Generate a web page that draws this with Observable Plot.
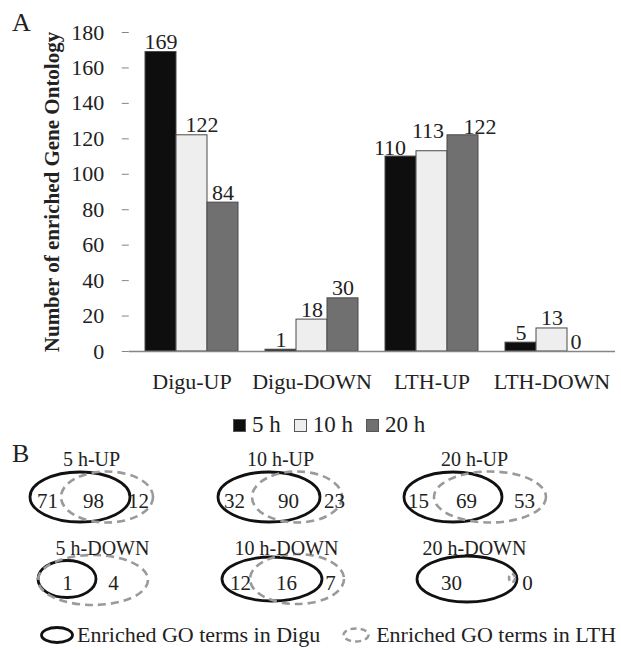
<!DOCTYPE html>
<html><head><meta charset="utf-8">
<script src="https://cdn.jsdelivr.net/npm/d3@7"></script>
<script src="https://cdn.jsdelivr.net/npm/@observablehq/plot@0.6"></script>
<style>
body{margin:0;background:#fff;}
#root{position:relative;width:621px;height:650px;font-family:"Liberation Serif","Times New Roman",Times,serif;color:#222;overflow:hidden;background:#fff}
#root svg{overflow:visible}
</style></head><body><div id="root"></div>
<script>
// ---------- Panel A data ----------
const groups = ["Digu-UP", "Digu-DOWN", "LTH-UP", "LTH-DOWN"];
const series = ["5 h", "10 h", "20 h"];
const values5h = [169, 1, 110, 5];
const values10h = [122, 18, 113, 13];
const values20h = [84, 30, 122, 0];
const yTicks = [0, 20, 40, 60, 80, 100, 120, 140, 160, 180];
const yTitle = "Number of enriched Gene Ontology";

// ---------- Panel B data ----------
const vennTitles = ["5 h-UP", "10 h-UP", "20 h-UP", "5 h-DOWN", "10 h-DOWN", "20 h-DOWN"];
const vennTime = ["5 h", "10 h", "20 h", "5 h", "10 h", "20 h"];
const vennDir = ["UP", "UP", "UP", "DOWN", "DOWN", "DOWN"];
const onlyDigu = ["71", "32", "15", "", "12", "30"];
const shared = ["98", "90", "69", "1", "16", ""];
const onlyLTH = ["12", "23", "53", "4", "7", "0"];
const legendB = ["Enriched GO terms in Digu", "Enriched GO terms in LTH"];

// ---------- styles / layout (px) ----------
const FONT = '"Liberation Serif","Times New Roman",Times,serif';
const INK = "#222";
const AXIS = "#858585";
const barFill = ["#0e0e0e", "#eeeeee", "#707070"];
// per-panel ellipse geometry (offsets from panel centre) and label offsets
const vennShape = [
  {d: [-14, 0, 50, 25], l: [13, 0, 46, 25.5], t: -3, n: [-47, -1, 44]},
  {d: [-13, 0, 51, 25], l: [15, 0, 45, 25.5], t: -2, n: [-48, 6, 52]},
  {d: [-17, 0, 49, 25], l: [20, 0, 56, 25.5], t: 4, n: [-52, -4, 54]},
  {d: [-27, 0, 29, 18.5], l: [-1, 1, 55, 25], t: 8, n: [0, -27, 19]},
  {d: [-10, 0, 50, 22], l: [15, 0, 47, 25], t: 4, n: [-42, 4, 48]},
  {d: [-3, 0, 50, 23], l: [42, -1, 3, 4], t: 4, n: [-19, 0, 57]}
];
const vennTitleDy = {UP: -38, DOWN: -31};
const barNudge = {"Digu-UP|10 h": [10, 0], "LTH-UP|5 h": [-11, 1], "LTH-UP|10 h": [-4, -10], "LTH-UP|20 h": [17, 2], "LTH-DOWN|20 h": [-7, 0]};

const root = document.getElementById("root");
function place(el, left, top) {
  el.style.position = "absolute"; el.style.left = left + "px"; el.style.top = top + "px";
  root.appendChild(el); return el;
}
function label(txt, left, top, size, extra = "") {
  const d = document.createElement("div");
  d.textContent = txt;
  d.style.cssText = `font-size:${size}px;line-height:${size}px;white-space:nowrap;color:${INK};${extra}`;
  return place(d, left, top);
}

// ---------- Panel A ----------
const vals = [values5h, values10h, values20h];
const barData = [];
groups.forEach((g, i) => series.forEach((s, j) => barData.push({group: g, series: s, value: vals[j][i]})));
const key = d => d.group + "|" + d.series;
const textOpts = {fx: "group", x: "series", y: "value", text: d => String(d.value), lineAnchor: "bottom", fontSize: 22, fill: INK};
const labelMarks = [Plot.text(barData.filter(d => !barNudge[key(d)]), {...textOpts, dy: -3})];
for (const [k, [dx, dy]] of Object.entries(barNudge)) {
  labelMarks.push(Plot.text(barData.filter(d => key(d) === k), {...textOpts, dx, dy: -3 + dy}));
}

const mL = 128, mR = 7, W = 621;
const fxPad = {paddingInner: 0.229, paddingOuter: 0.135};
// geometry of the first facet, used to extend the axis lines onto the frame edges
const fxBand = d3.scaleBand().domain(groups).range([mL, W - mR])
  .paddingInner(fxPad.paddingInner).paddingOuter(fxPad.paddingOuter);
const facetShift = fxBand(groups[0]) - mL;
const facetRightGap = (W - mR) - (fxBand(groups[0]) + fxBand.bandwidth());
const firstFacet = [groups[0]];

const plotA = Plot.plot({
  width: W, height: 400,
  marginTop: 32, marginBottom: 49, marginLeft: mL, marginRight: mR,
  style: {fontFamily: FONT, color: INK, background: "transparent"},
  fx: {domain: groups, ...fxPad, label: null},
  x: {domain: series, padding: 0, axis: null},
  y: {domain: [0, 180], label: null, axis: null},
  color: {domain: series, range: barFill},
  marks: [
    Plot.barY(barData, {fx: "group", x: "series", y: "value", fill: "series", stroke: "#4a4a4a", strokeWidth: 1}),
    ...labelMarks,
    // x baseline across the whole frame (drawn from the first facet)
    Plot.ruleY(firstFacet, {fx: d => d, y: () => 0, insetLeft: -facetShift, insetRight: -facetRightGap, stroke: AXIS, strokeWidth: 1.3}),
    // y axis line on the frame's left edge
    Plot.ruleX(firstFacet, {fx: d => d, dx: -(facetShift + fxBand.bandwidth() / 2), stroke: AXIS, strokeWidth: 1.3}),
    Plot.axisY({ticks: yTicks, tickSize: 7, tickPadding: 18, fontSize: 22, label: null, stroke: AXIS, fill: INK, dx: -facetShift}),
    Plot.axisFx({anchor: "bottom", tickSize: 0, tickPadding: 22, fontSize: 22, label: null, fill: INK})
  ]
});
place(plotA, 0, 0);

// y title (rotated)
const yt = label(yTitle, 0, 0, 21, "font-weight:bold;");
yt.style.left = "42px"; yt.style.top = "192px";
yt.style.transformOrigin = "0 0";
yt.style.transform = "rotate(-90deg) translate(-50%, 0)";

label("A", 12, 10, 26);
label("B", 12, 441, 26);

// legend A
const legA = document.createElement("div");
legA.style.cssText = `display:flex;align-items:center;font-size:23px;line-height:24px;color:${INK};`;
series.forEach((s, j) => {
  const sw = document.createElement("span");
  sw.style.cssText = `display:inline-block;width:11px;height:11px;background:${barFill[j]};border:1px solid #555;margin-right:6px;margin-left:${j ? 13 : 0}px;`;
  const tx = document.createElement("span"); tx.textContent = s;
  legA.appendChild(sw); legA.appendChild(tx);
});
place(legA, 233, 413);

// ---------- Panel B ----------
const ellipses = [], vennLabels = [], vennHeads = [];
vennTitles.forEach((t, i) => {
  const sh = vennShape[i];
  ellipses.push({time: vennTime[i], dir: vennDir[i], set: "Digu", cx: sh.d[0], cy: sh.d[1], rx: sh.d[2], ry: sh.d[3]});
  ellipses.push({time: vennTime[i], dir: vennDir[i], set: "LTH", cx: sh.l[0], cy: sh.l[1], rx: sh.l[2], ry: sh.l[3]});
  vennHeads.push({time: vennTime[i], dir: vennDir[i], title: t, dx: sh.t});
  [onlyDigu[i], shared[i], onlyLTH[i]].forEach((v, k) => {
    if (v !== "") vennLabels.push({time: vennTime[i], dir: vennDir[i], text: v, dx: sh.n[k]});
  });
});

function ellipseRender(index, scales, values) {
  const g = d3.create("svg:g");
  for (const i of index) {
    const e = ellipses[i];
    const el = g.append("ellipse")
      .attr("cx", values.x[i]).attr("cy", values.y[i])
      .attr("rx", Math.abs(scales.x(e.rx) - scales.x(0)))
      .attr("ry", Math.abs(scales.y(e.ry) - scales.y(0)))
      .attr("fill", "none");
    if (e.set === "Digu") el.attr("stroke", "#111").attr("stroke-width", 2.8);
    else el.attr("stroke", "#9a9a9a").attr("stroke-width", 2.6).attr("stroke-dasharray", e.rx < 10 ? "5 3" : "8 5");
  }
  return g.node();
}

const plotB = Plot.plot({
  width: 621, height: 180,
  marginTop: 16, marginBottom: 0, marginLeft: 0, marginRight: 57,
  style: {fontFamily: FONT, color: INK, background: "transparent"},
  fx: {domain: series, padding: 0, axis: null},
  fy: {domain: ["UP", "DOWN"], padding: 0, axis: null},
  x: {domain: [-94, 94], axis: null},
  y: {domain: [-41, 41], reverse: true, axis: null},
  marks: [
    Plot.dot(ellipses, {fx: "time", fy: "dir", x: "cx", y: "cy", render: ellipseRender}),
    Plot.text(vennHeads, {fx: "time", fy: "dir", x: "dx", y: d => vennTitleDy[d.dir], text: "title", fontSize: 20, fill: INK}),
    Plot.text(vennLabels, {fx: "time", fy: "dir", x: "dx", y: () => 4, text: "text", fontSize: 21, fill: INK})
  ]
});
place(plotB, 0, 440);

// legend B
const legB = document.createElement("div");
legB.style.cssText = `display:flex;align-items:center;font-size:22px;line-height:24px;color:${INK};`;
legendB.forEach((t, j) => {
  const ns = "http://www.w3.org/2000/svg";
  const svg = document.createElementNS(ns, "svg");
  svg.setAttribute("width", 36); svg.setAttribute("height", 20);
  svg.style.marginRight = "2px"; svg.style.marginLeft = j ? "18px" : "0";
  const e = document.createElementNS(ns, "ellipse");
  e.setAttribute("cx", 18); e.setAttribute("cy", 10); e.setAttribute("rx", j ? 12.5 : 15.5); e.setAttribute("ry", j ? 6.5 : 7.5);
  e.setAttribute("fill", "none");
  e.setAttribute("stroke", j ? "#9a9a9a" : "#111");
  e.setAttribute("stroke-width", j ? 2.4 : 2.8);
  if (j) e.setAttribute("stroke-dasharray", "6 4");
  svg.appendChild(e);
  const tx = document.createElement("span"); tx.textContent = t;
  legB.appendChild(svg); legB.appendChild(tx);
});
place(legB, 39, 623);
</script></body></html>
